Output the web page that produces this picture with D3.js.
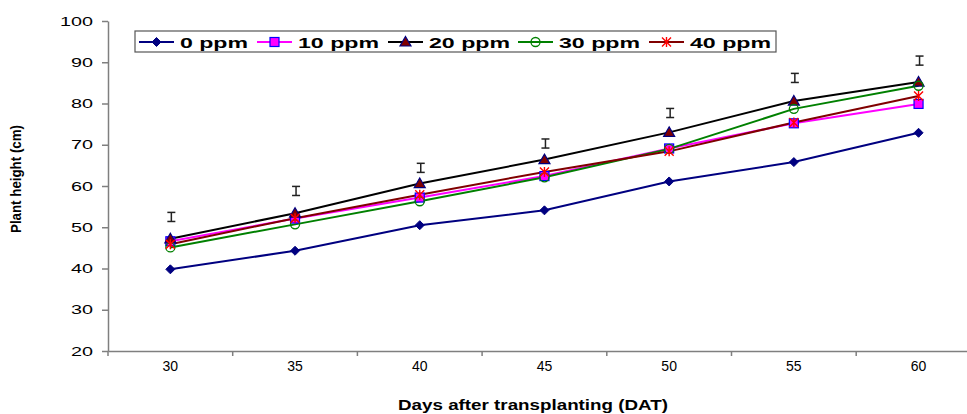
<!DOCTYPE html>
<html>
<head>
<meta charset="utf-8">
<script src="https://cdn.jsdelivr.net/npm/d3@7"></script>
<style>
  body { margin: 0; background: #fff; }
  svg { display: block; font-family: "Liberation Sans", Arial, sans-serif; }
</style>
</head>
<body>
<div id="chart"></div>
<script>
const width = 967, height = 414;

// data
const days = [30, 35, 40, 45, 50, 55, 60];
const ppm0 = [39.8, 44.3, 50.5, 54.1, 61.1, 65.8, 72.9];
const ppm10 = [46.6, 52.1, 57.2, 62.4, 69.1, 75.2, 79.9];
const ppm20 = [47.2, 53.4, 60.6, 66.4, 73.0, 80.6, 85.2];
const ppm30 = [45.1, 50.7, 56.3, 62.1, 69.0, 78.7, 84.3];
const ppm40 = [45.9, 52.2, 57.9, 63.4, 68.4, 75.4, 81.8];
const lsdMid = [52.5, 58.8, 64.4, 70.3, 77.7, 86.2, 90.4];
const lsdHalf = 1.1;
const yTicks = [20, 30, 40, 50, 60, 70, 80, 90, 100];

const series = [
  {name: "0 ppm", values: ppm0, line: "#000080", shape: "diamond", fill: "#000080", stroke: "#000080"},
  {name: "10 ppm", values: ppm10, line: "#ff00ff", shape: "square", fill: "#ff00ff", stroke: "#0000ff"},
  {name: "20 ppm", values: ppm20, line: "#000000", shape: "triangle", fill: "#800000", stroke: "#000080"},
  {name: "30 ppm", values: ppm30, line: "#008000", shape: "circle", fill: "none", stroke: "#008000"},
  {name: "40 ppm", values: ppm40, line: "#800000", shape: "star", fill: "none", stroke: "#ff0000"}
];

const plotLeft = 108, plotTop = 21, plotBottom = 351;

const x = d3.scaleBand().domain(days).range([plotLeft, plotLeft + 7 * 124.7]).padding(0);
const y = d3.scaleLinear().domain([20, 100]).range([plotBottom, plotTop]);
const cx = d => x(d) + x.bandwidth() / 2;

const svg = d3.select("#chart").append("svg")
    .attr("width", width)
    .attr("height", height);

// y axis
const yAxis = svg.append("g")
    .attr("transform", `translate(${plotLeft},0)`)
    .call(d3.axisLeft(y).tickValues(yTicks).tickSize(6).tickSizeOuter(0).tickPadding(9));
yAxis.select(".domain").attr("stroke", "#7f7f7f").attr("stroke-width", 1.5);
yAxis.selectAll(".tick line").attr("stroke", "#7f7f7f").attr("stroke-width", 1.5);
yAxis.selectAll(".tick text")
    .attr("font-size", 13)
    .attr("fill", "#000")
    .attr("textLength", d => String(d).length * 11)
    .attr("lengthAdjust", "spacingAndGlyphs");

// x axis
const xAxis = svg.append("g")
    .attr("transform", `translate(0,${plotBottom})`)
    .call(d3.axisBottom(x).tickSize(0).tickPadding(10));
xAxis.select(".domain").attr("stroke", "#7f7f7f").attr("stroke-width", 1.5);
xAxis.selectAll(".tick text").attr("font-size", 14).attr("fill", "#000");
xAxis.selectAll(".boundary")
    .data(d3.range(8))
    .enter().append("line")
    .attr("x1", i => plotLeft + i * x.bandwidth())
    .attr("x2", i => plotLeft + i * x.bandwidth())
    .attr("y1", 0).attr("y2", 5)
    .attr("stroke", "#7f7f7f").attr("stroke-width", 1.5);

// axis titles
svg.append("text")
    .attr("x", 533).attr("y", 410)
    .attr("text-anchor", "middle")
    .attr("font-size", 15).attr("font-weight", "bold")
    .attr("textLength", 270).attr("lengthAdjust", "spacingAndGlyphs")
    .text("Days after transplanting (DAT)");

svg.append("text")
    .attr("transform", "translate(21,179) rotate(-90)")
    .attr("text-anchor", "middle")
    .attr("font-size", 14).attr("font-weight", "bold")
    .attr("textLength", 108).attr("lengthAdjust", "spacingAndGlyphs")
    .text("Plant height (cm)");

// markers
function marker(g, shape, fill, stroke) {
  if (shape === "diamond") {
    g.append("path").attr("d", "M0,-4.5L4.5,0L0,4.5L-4.5,0Z").attr("fill", fill).attr("stroke", stroke);
  } else if (shape === "square") {
    g.append("rect").attr("x", -4.5).attr("y", -4.5).attr("width", 9).attr("height", 9)
      .attr("fill", fill).attr("stroke", stroke).attr("stroke-width", 1.2);
  } else if (shape === "triangle") {
    g.append("path").attr("d", "M0,-5.5L5.5,4L-5.5,4Z").attr("fill", fill).attr("stroke", stroke).attr("stroke-width", 1.2);
  } else if (shape === "circle") {
    g.append("circle").attr("r", 4.5).attr("fill", "#fff").attr("fill-opacity", 0).attr("stroke", stroke).attr("stroke-width", 1.3);
  } else if (shape === "star") {
    g.append("path").attr("d", "M-4.5,-4.5L4.5,4.5M-4.5,4.5L4.5,-4.5M0,-5L0,5")
      .attr("stroke", stroke).attr("stroke-width", 1.4);
  }
}

const line = d3.line().x((d, i) => cx(days[i])).y(d => y(d));

series.forEach(s => {
  svg.append("path")
      .datum(s.values)
      .attr("fill", "none")
      .attr("stroke", s.line)
      .attr("stroke-width", 2)
      .attr("d", line);
});
series.forEach(s => {
  s.values.forEach((v, i) => {
    const g = svg.append("g").attr("transform", `translate(${cx(days[i])},${y(v)})`);
    marker(g, s.shape, s.fill, s.stroke);
  });
});

// LSD bars
const bars = svg.append("g").attr("stroke", "#222").attr("stroke-width", 1.5);
lsdMid.forEach((m, i) => {
  const px = cx(days[i]) + 1;
  bars.append("line").attr("x1", px).attr("x2", px).attr("y1", y(m + lsdHalf)).attr("y2", y(m - lsdHalf));
  bars.append("line").attr("x1", px - 4).attr("x2", px + 4).attr("y1", y(m + lsdHalf)).attr("y2", y(m + lsdHalf));
  bars.append("line").attr("x1", px - 4).attr("x2", px + 4).attr("y1", y(m - lsdHalf)).attr("y2", y(m - lsdHalf));
});

// legend
const legend = svg.append("g").attr("transform", "translate(135,31)");
legend.append("rect")
    .attr("width", 641).attr("height", 21)
    .attr("fill", "#fff").attr("stroke", "#555").attr("stroke-width", 1.2);
const legendX = [4, 122, 253, 383, 514];
const legendW = [68, 81, 81, 81, 81];
series.forEach((s, i) => {
  const g = legend.append("g").attr("transform", `translate(${legendX[i]},11)`);
  g.append("line").attr("x1", 0).attr("x2", 35).attr("stroke", s.line).attr("stroke-width", 2);
  const m = g.append("g").attr("transform", "translate(17.5,0)");
  marker(m, s.shape, s.fill, s.stroke);
  g.append("text")
      .attr("x", 41).attr("y", 5.5)
      .attr("font-size", 15).attr("font-weight", "bold")
      .attr("textLength", legendW[i]).attr("lengthAdjust", "spacingAndGlyphs")
      .text(s.name);
});
</script>
</body>
</html>
